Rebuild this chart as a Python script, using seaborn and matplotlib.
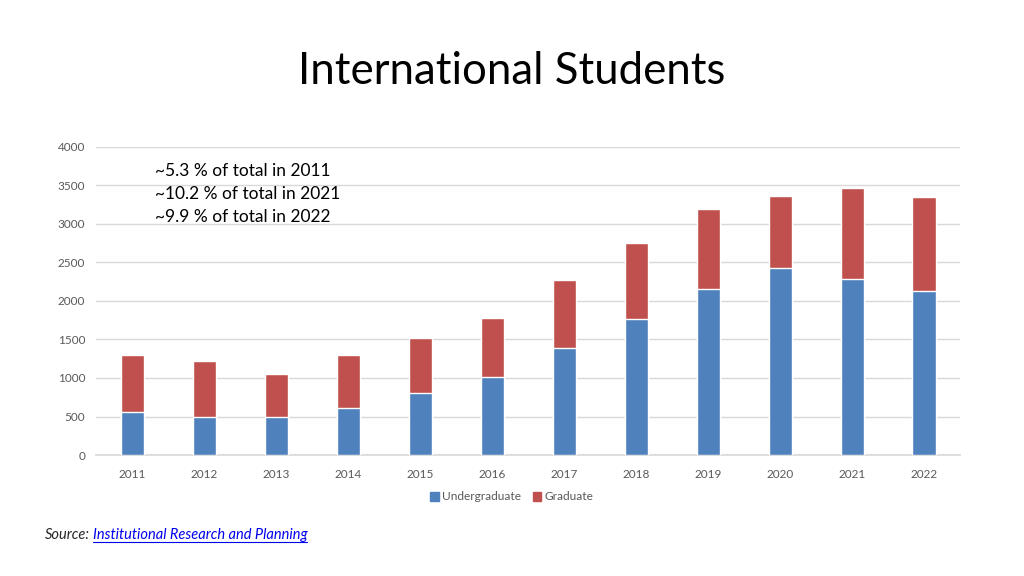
import matplotlib
matplotlib.use("Agg")
import matplotlib.pyplot as plt
import seaborn as sns
import pandas as pd
from matplotlib.patches import Patch

years = ["2011", "2012", "2013", "2014", "2015", "2016", "2017", "2018", "2019", "2020", "2021", "2022"]
undergraduate = [560, 490, 500, 610, 800, 1010, 1390, 1765, 2160, 2430, 2290, 2130]
graduate = [735, 735, 555, 685, 715, 770, 880, 985, 1030, 930, 1175, 1215]
notes = ["~5.3 % of total in 2011", "~10.2 % of total in 2021", "~9.9 % of total in 2022"]

sns.set_theme(style="white")
plt.rcParams["font.family"] = ["Lato", "DejaVu Sans"]

df = pd.DataFrame({"year": years, "ug": undergraduate, "grad": graduate})
df["total"] = df["ug"] + df["grad"]

blue = "#4F81BD"
red = "#C0504D"

fig = plt.figure(figsize=(10.24, 5.76), dpi=100)
ax = fig.add_axes([0.094, 0.21, 0.8435, 0.535])

sns.barplot(data=df, x="year", y="total", color=red, width=0.32, ax=ax, saturation=1, zorder=3)
sns.barplot(data=df, x="year", y="ug", color=blue, width=0.32, ax=ax, saturation=1, zorder=4)

ax.set_ylim(0, 4000)
ax.set_yticks(range(0, 4001, 500))
ax.yaxis.grid(True, color="#D9D9D9", linewidth=1, zorder=0)
ax.set_axisbelow(True)
for s in ["top", "right", "left"]:
    ax.spines[s].set_visible(False)
ax.spines["bottom"].set_color("#D9D9D9")
ax.set_xlabel("")
ax.set_ylabel("")
ax.tick_params(axis="both", length=0, labelsize=8.5, labelcolor="#595959")
ax.tick_params(axis="y", pad=8)
ax.tick_params(axis="x", pad=10)

for i, t in enumerate(notes):
    fig.text(155 / 1024, 1 - (171 + 23 * i) / 576, t, fontsize=12.5, color="black", va="center", ha="left")

fig.text(0.5, 1 - 72 / 576, "International Students", fontsize=31.5, ha="center", va="center", color="black")

handles = [Patch(color=blue, label="Undergraduate"), Patch(color=red, label="Graduate")]
fig.legend(handles=handles, loc="center", bbox_to_anchor=(0.5, 1 - 497 / 576), ncol=2, frameon=False,
           fontsize=8.6, handlelength=0.7, handleheight=0.7, handletextpad=0.3, columnspacing=1.0,
           labelcolor="#595959")

fig.text(45 / 1024, 1 - 535 / 576, "Source:", fontsize=10.5, style="italic", va="center", ha="left")
fig.text(93 / 1024, 1 - 535 / 576, "Institutional Research and Planning", fontsize=10.5, style="italic",
         va="center", ha="left", color="#0000EE")
fig.add_artist(plt.Line2D([93 / 1024, 307 / 1024], [1 - 542 / 576, 1 - 542 / 576], color="#0000EE", linewidth=0.8))

fig.savefig("out.png", dpi=100)
